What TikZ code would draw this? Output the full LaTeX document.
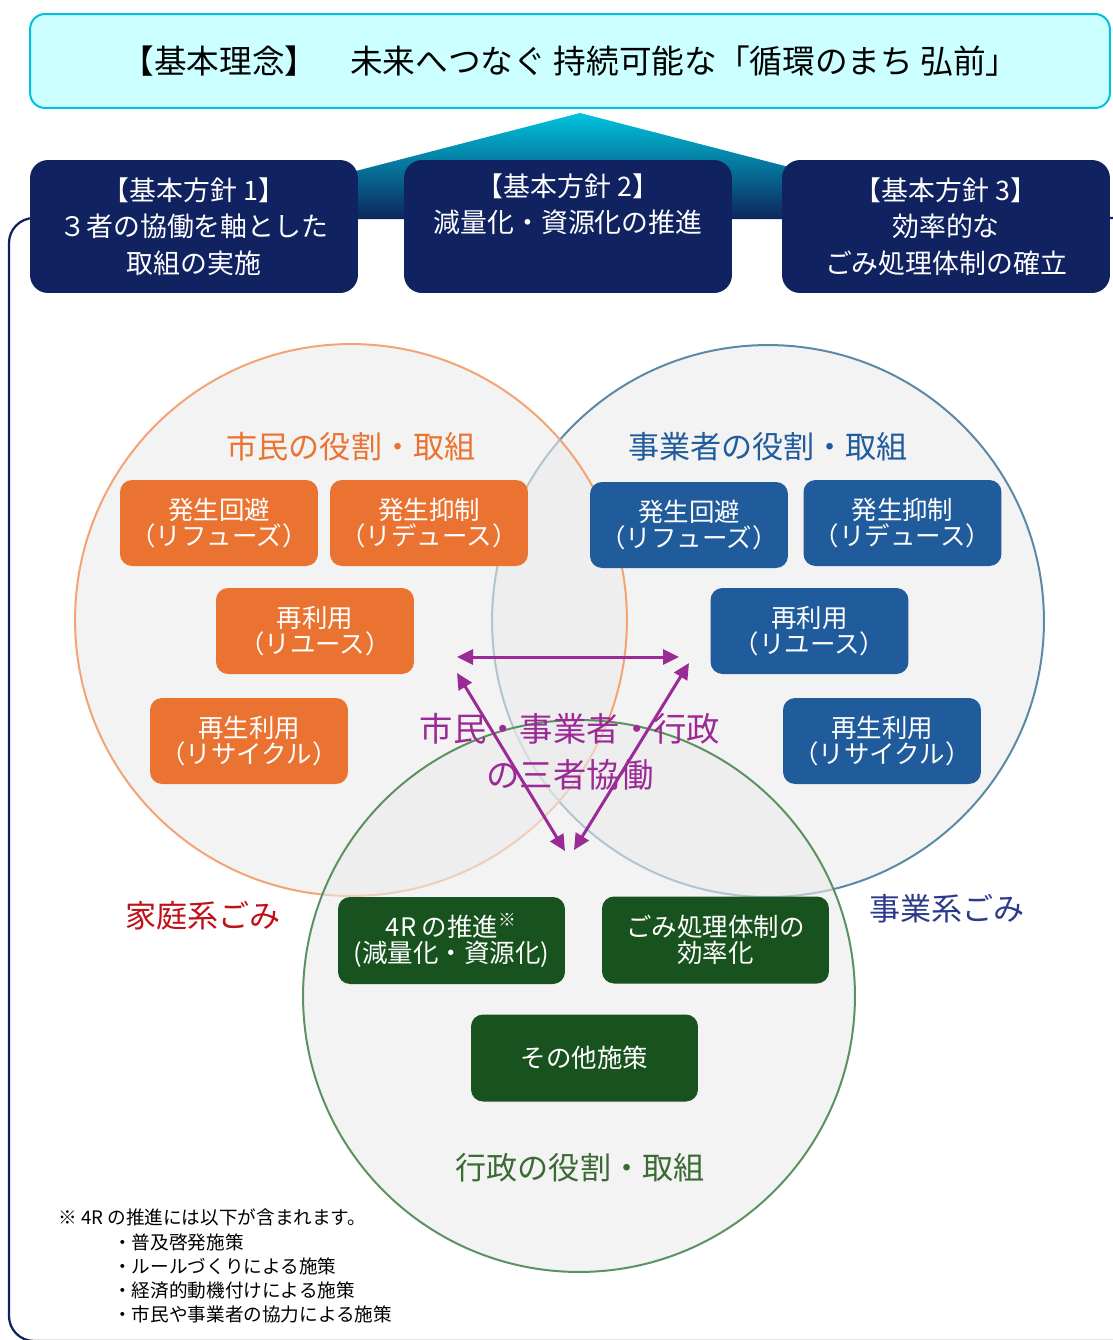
\documentclass[tikz,border=0pt]{standalone}
\usepackage{fontspec}
\setmainfont{Noto Sans CJK JP}
\usepackage{tikz}
\usetikzlibrary{arrows.meta}
\definecolor{KihonFrame}{RGB}{0,192,222}
\definecolor{KihonFill}{RGB}{204,255,255}
\definecolor{HoushinNavy}{RGB}{16,34,96}
\definecolor{GradTop}{RGB}{0,196,222}
\definecolor{GradBottom}{RGB}{12,40,92}
\definecolor{ShiminColor}{RGB}{234,115,50}
\definecolor{ShiminLine}{RGB}{242,164,116}
\definecolor{JigyoColor}{RGB}{32,92,156}
\definecolor{JigyoLine}{RGB}{92,138,166}
\definecolor{GyoseiColor}{RGB}{24,82,30}
\definecolor{GyoseiLine}{RGB}{92,145,98}
\definecolor{GyoseiText}{RGB}{60,106,52}
\definecolor{KyodoColor}{RGB}{156,42,150}
\definecolor{KateiColor}{RGB}{192,16,24}
\definecolor{JigyoGomi}{RGB}{44,58,140}

\begin{document}
\begin{tikzpicture}[x=0.02cm,y=-0.02cm,
  role/.style n args={3}{fill=#1,text=white,minimum width=#2cm,minimum height=#3cm,rounded corners=0.24cm,inner sep=0pt,outer sep=0pt,align=center,font=\fontsize{14.5pt}{15pt}\selectfont},
  houshin/.style={fill=HoushinNavy,text=white,minimum width=6.56cm,minimum height=2.66cm,rounded corners=0.36cm,inner sep=0pt,outer sep=0pt,align=center,font=\fontsize{15.3pt}{20.7pt}\selectfont},
  ring/.style={draw=#1,line width=0.04cm,fill=black!8,fill opacity=0.6},
  rolelabel/.style={text=#1,inner sep=0pt,font=\fontsize{17.7pt}{20pt}\selectfont},
  kyodo/.style={KyodoColor,line width=0.06cm,{Triangle[length=0.32cm,width=0.3cm]}-{Triangle[length=0.32cm,width=0.3cm]}},
  note/.style={anchor=west,inner sep=0pt,font=\fontsize{10.6pt}{12pt}\selectfont}]
\useasboundingbox (0,0) rectangle (1113,1340);
% outer frame
\begin{scope}
  \clip (0,0) rectangle (1113,1340);
  \draw[HoushinNavy,line width=0.045cm,rounded corners=0.5cm] (9,218) rectangle (1150,1341);
\end{scope}
\shade[top color=GradTop,bottom color=GradBottom] (580,113) -- (986,218) -- (174,218) -- cycle;
% basic idea
\node[draw=KihonFrame,line width=0.04cm,fill=KihonFill,rounded corners=0.3cm,minimum width=21.6cm,minimum height=1.88cm,inner sep=0pt,font=\fontsize{18.6pt}{20pt}\selectfont] (n0) at (570,61) {【基本理念】　未来へつなぐ 持続可能な「循環のまち 弘前」};
\node[houshin] (h1) at (194,226.5) {【基本方針 1】\\３者の協働を軸とした\\取組の実施};
\node[houshin] (h2) at (568,226.5) {【基本方針 2】\\減量化・資源化の推進\\\strut};
\node[houshin] (h3) at (946,226.5) {【基本方針 3】\\効率的な\\ごみ処理体制の確立};
% three circles
\draw[ring=JigyoLine] (768,621) circle[radius=5.52cm];
\draw[ring=ShiminLine] (351,620) circle[radius=5.52cm];
\draw[ring=GyoseiLine] (579,996) circle[radius=5.52cm];
\node[rolelabel=ShiminColor] (l1) at (351,447) {市民の役割・取組};
\node[rolelabel=JigyoColor] (l2) at (768,447) {事業者の役割・取組};
\node[rolelabel=GyoseiText] (l3) at (580,1168) {行政の役割・取組};
\node[rolelabel=KateiColor] (l4) at (203,916) {家庭系ごみ};
\node[rolelabel=JigyoGomi] (l5) at (947,909) {事業系ごみ};
% citizens
\node[role={ShiminColor}{3.96}{1.72}] (s1) at (219,523) {発生回避\\（リフューズ）};
\node[role={ShiminColor}{3.96}{1.72}] (s2) at (429,523) {発生抑制\\（リデュース）};
\node[role={ShiminColor}{3.96}{1.72}] (s3) at (315,631) {再利用\\（リユース）};
\node[role={ShiminColor}{3.96}{1.72}] (s4) at (249,741) {再生利用\\（リサイクル）};
% business
\node[role={JigyoColor}{3.96}{1.72}] (j1) at (689,525) {発生回避\\（リフューズ）};
\node[role={JigyoColor}{3.96}{1.72}] (j2) at (902.5,523) {発生抑制\\（リデュース）};
\node[role={JigyoColor}{3.96}{1.72}] (j3) at (809.5,631) {再利用\\（リユース）};
\node[role={JigyoColor}{3.96}{1.72}] (j4) at (882,741) {再生利用\\（リサイクル）};
% government
\node[role={GyoseiColor}{4.54}{1.74}] (g1) at (451.5,940.5) {4R の推進\textsuperscript{※}\\(減量化・資源化)};
\node[role={GyoseiColor}{4.54}{1.74}] (g2) at (715.5,940) {ごみ処理体制の\\効率化};
\node[role={GyoseiColor}{4.54}{1.74}] (g3) at (584.5,1058) {その他施策};
% collaboration arrows
\coordinate (k1) at (457,657);
\coordinate (k2) at (679,657);
\coordinate (k3) at (457,673);
\coordinate (k4) at (565,851);
\coordinate (k5) at (689,663);
\coordinate (k6) at (574,850);
\draw[kyodo] (k1) -- (k2);
\draw[kyodo] (k3) -- (k4);
\draw[kyodo] (k5) -- (k6);
\node[text=KyodoColor,align=center,inner sep=0pt,font=\fontsize{19pt}{26pt}\selectfont] (kt) at (570,752) {市民・事業者・行政\\の三者協働};
% note
\node[note] (f0) at (58,1217) {※ 4R の推進には以下が含まれます。};
\foreach \y/\1 [count=\i] in %
{1242/普及啓発施策,1266/ルールづくりによる施策,1290/経済的動機付けによる施策,1314/市民や事業者の協力による施策} {
   \node[note] (f\i) at (113,\y) {・\1};
}
\end{tikzpicture}
\end{document}
